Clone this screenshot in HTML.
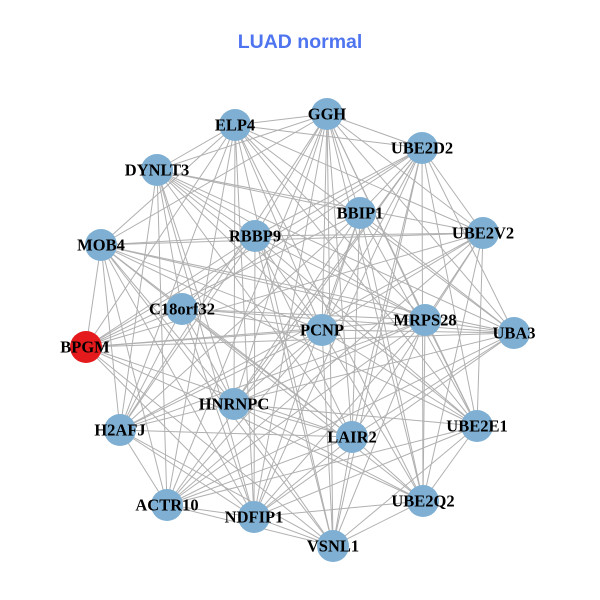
<!DOCTYPE html>
<html><head><meta charset="utf-8"><style>
html,body{margin:0;padding:0;background:#fff;}
svg{display:block}
.l{font-family:"Liberation Serif",serif;font-weight:bold;font-size:16.5px;fill:#000;text-anchor:middle;dominant-baseline:central}
</style></head><body>
<svg id="s" width="600" height="600" viewBox="0 0 600 600">
<rect width="600" height="600" fill="#fff"/>
<text x="300" y="42" text-anchor="middle" dominant-baseline="central" font-family="Liberation Sans,sans-serif" font-weight="bold" font-size="19.5" fill="#4f74f0">LUAD normal</text>
<g id="e" stroke="#b0b0b0" stroke-width="1"></g>
<g id="n"></g>
<g>
<text class="l" x="327" y="114">GGH</text>
<text class="l" x="235" y="125">ELP4</text>
<text class="l" x="422" y="148">UBE2D2</text>
<text class="l" x="157" y="170">DYNLT3</text>
<text class="l" x="360" y="213">BBIP1</text>
<text class="l" x="255" y="236">RBBP9</text>
<text class="l" x="483" y="233">UBE2V2</text>
<text class="l" x="101" y="245">MOB4</text>
<text class="l" x="182" y="309">C18orf32</text>
<text class="l" x="425" y="320">MRPS28</text>
<text class="l" x="322" y="330">PCNP</text>
<text class="l" x="514" y="333">UBA3</text>
<text class="l" x="85" y="347">BPGM</text>
<text class="l" x="234" y="404">HNRNPC</text>
<text class="l" x="120" y="430">H2AFJ</text>
<text class="l" x="352" y="437">LAIR2</text>
<text class="l" x="477" y="426">UBE2E1</text>
<text class="l" x="423" y="501">UBE2Q2</text>
<text class="l" x="167" y="505">ACTR10</text>
<text class="l" x="254" y="517">NDFIP1</text>
<text class="l" x="333" y="546">VSNL1</text>
</g>
</svg>
<script>
var P=[[327,114],[235,125],[422,148],[157,170],[360,213],[255,236],[483,233],[101,245],[182,309],[425,320],[322,330],[514,333],[86,347],[234,404],[120,430],[352,437],[477,426],[423,501],[167,505],[254,517],[333,546]];
var ns="http://www.w3.org/2000/svg",e=document.getElementById("e"),n=document.getElementById("n");
var seed=7;function r(){seed=(seed*9301+49297)%233280;return seed/233280;}
for(var i=0;i<P.length;i++)for(var j=i+1;j<P.length;j++){if(r()<0.7){var l=document.createElementNS(ns,"line");l.setAttribute("x1",P[i][0]);l.setAttribute("y1",P[i][1]);l.setAttribute("x2",P[j][0]);l.setAttribute("y2",P[j][1]);e.appendChild(l);}}
for(var i=0;i<P.length;i++){var c=document.createElementNS(ns,"circle");c.setAttribute("cx",P[i][0]);c.setAttribute("cy",P[i][1]);c.setAttribute("r",16);c.setAttribute("fill",i==12?"#e41a1c":"#7fb0d3");n.appendChild(c);}
</script>
</body></html>
